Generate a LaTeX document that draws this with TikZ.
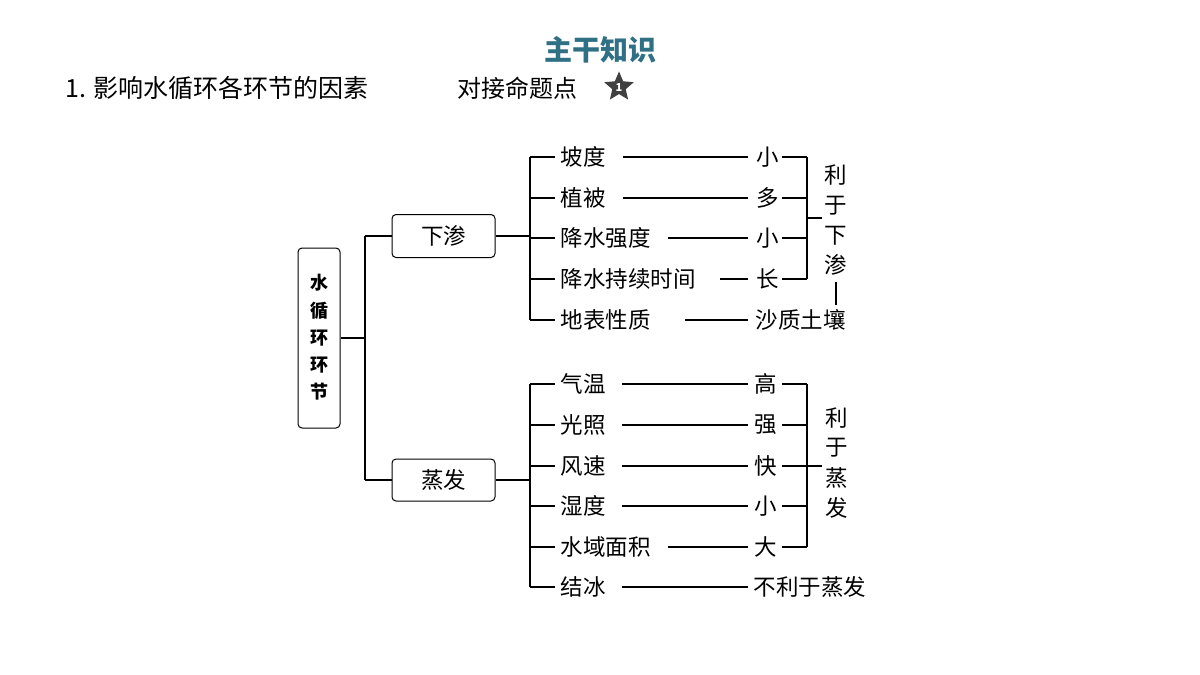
\documentclass[tikz,border=0pt]{standalone}
\usepackage{fontspec}
\setmainfont{Noto Sans CJK SC}
\usetikzlibrary{shapes.geometric}
\definecolor{teal1}{RGB}{47,112,132}
\begin{document}
\begin{tikzpicture}[x=1pt,y=-1pt,line width=1.2pt,
  t/.style={font=\fontsize{22.5}{24}\selectfont,inner sep=0pt},
  lbl/.style={t,anchor=west},
  box/.style={draw,rounded corners=4pt,line width=1pt}]
\useasboundingbox (0,0) rectangle (1200,675);
\node[font=\fontsize{28}{30}\selectfont\bfseries,text=teal1] (title) at (600,50) {主干知识};
\node[anchor=west,font=\fontsize{25}{28}\selectfont,inner sep=0pt] (head) at (65,88) {1. 影响水循环各环节的因素};
\node[anchor=west,font=\fontsize{24}{26}\selectfont,inner sep=0pt] (head2) at (457,88) {对接命题点};
\node[star,star points=5,star point ratio=2.2,fill=black!75,draw=black!75,minimum size=28pt,inner sep=0pt] (star) at (619,87) {};
\node[text=white,font=\fontsize{11}{11}\selectfont\bfseries,inner sep=0pt] (one) at (619,88) {1};
% root
\node[box,minimum width=42pt,minimum height=180pt] (root) at (319,338) {};
\foreach \c/\y [count=\i] in {水/283,循/311,环/338,环/365,节/392}
  \node[font=\fontsize{18}{18}\selectfont\bfseries,inner sep=0pt] (r\i) at (319,\y) {\c};
\node[box,minimum width=103pt,minimum height=43pt,t] (xs) at (443.5,236) {下渗};
\node[box,minimum width=103pt,minimum height=42pt,t] (zf) at (443.5,480) {蒸发};
\coordinate (j0) at (365,338);
\draw (root.east) -- (j0);
\draw (365,236) -- (365,480);
\draw (365,236) -- (xs.west);
\draw (365,480) -- (zf.west);
% 下渗 group
\draw (xs.east) -- (530,236);
\draw (530,157) -- (530,320);
\foreach \n/\y/\v/\vx/\ls [count=\i] in {坡度/157/小/768/623,植被/198/多/768/623,降水强度/238/小/768/668,降水持续时间/279/长/768/720}{
  \draw (530,\y) -- (555,\y);
  \node[lbl] (a\i) at (560,\y) {\n};
  \node[t] (v\i) at (\vx,\y) {\v};
  \draw (\ls,\y) -- (748,\y);
  \draw (782,\y) -- (807,\y);
}
\draw (530,320) -- (555,320);
\node[lbl] (a5) at (560,320) {地表性质};
\node[lbl] (v5) at (755,320) {沙质土壤};
\draw (685,320) -- (748,320);
\draw (807,157) -- (807,279);
\draw (807,218) -- (822,218);
\foreach \c/\y [count=\i] in {利/175,于/206,下/236,渗/265}
  \node[t] (lx\i) at (836,\y) {\c};
\draw (836,282) -- (836,305);
% 蒸发 group
\draw (zf.east) -- (530,480);
\draw (530,384) -- (530,587);
\foreach \n/\y/\v/\ls [count=\i] in {气温/384/高/622,光照/425/强/622,风速/466/快/622,湿度/506/小/622,水域面积/547/大/668}{
  \draw (530,\y) -- (555,\y);
  \node[lbl] (b\i) at (560,\y) {\n};
  \node[t] (w\i) at (766,\y) {\v};
  \draw (\ls,\y) -- (748,\y);
  \draw (782,\y) -- (807,\y);
}
\draw (530,587) -- (555,587);
\node[lbl] (b6) at (560,587) {结冰};
\node[lbl] (w6) at (753,587) {不利于蒸发};
\draw (622,587) -- (748,587);
\draw (807,384) -- (807,547);
\draw (807,466) -- (822,466);
\foreach \c/\y [count=\i] in {利/418,于/448,蒸/478,发/508}
  \node[t] (lz\i) at (837,\y) {\c};
\end{tikzpicture}
\end{document}
